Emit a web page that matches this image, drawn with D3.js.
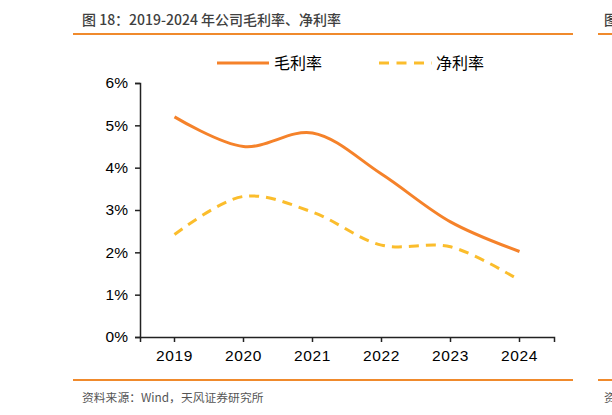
<!DOCTYPE html>
<html>
<head>
<meta charset="utf-8">
<script src="https://cdn.jsdelivr.net/npm/d3@7"></script>
<style>
  body { margin: 0; background: #fff; }
  svg { display: block; }
</style>
</head>
<body>
<svg id="chart" width="612" height="415"></svg>
<script>
// data
const years = ["2019", "2020", "2021", "2022", "2023", "2024"];
const grossMargin = [5.2, 4.5, 4.82, 3.85, 2.72, 2.02];
const netMargin = [2.42, 3.32, 2.95, 2.17, 2.13, 1.34];
const yTicks = [0, 1, 2, 3, 4, 5, 6];
const seriesNames = ["毛利率", "净利率"];

const svg = d3.select("#chart");
const cjk = "'Noto Sans CJK SC', 'Noto Sans', sans-serif";
const latin = "'Liberation Sans', Arial, sans-serif";

const margin = { top: 83, right: 58, bottom: 78, left: 140 };
const width = 612 - margin.left - margin.right;
const height = 415 - margin.top - margin.bottom;

// header and footer rules
svg.append("line").attr("x1", 73).attr("x2", 573).attr("y1", 34).attr("y2", 34)
  .attr("stroke", "#F08A2C").attr("stroke-width", 2);
svg.append("line").attr("x1", 598).attr("x2", 612).attr("y1", 34).attr("y2", 34)
  .attr("stroke", "#F08A2C").attr("stroke-width", 2);
svg.append("line").attr("x1", 73).attr("x2", 573).attr("y1", 380).attr("y2", 380)
  .attr("stroke", "#F08A2C").attr("stroke-width", 2);
svg.append("line").attr("x1", 598).attr("x2", 612).attr("y1", 380).attr("y2", 380)
  .attr("stroke", "#F08A2C").attr("stroke-width", 2);

svg.append("text").attr("x", 82).attr("y", 25)
  .attr("font-family", cjk).attr("font-size", 14).attr("font-weight", 500)
  .attr("fill", "#404040")
  .text("图 18：2019-2024 年公司毛利率、净利率");
svg.append("text").attr("x", 604).attr("y", 25)
  .attr("font-family", cjk).attr("font-size", 14).attr("font-weight", 500)
  .attr("fill", "#404040").text("图");

svg.append("text").attr("x", 82).attr("y", 402)
  .attr("font-family", cjk).attr("font-size", 11.8).attr("fill", "#555")
  .text("资料来源：Wind，天风证券研究所");
svg.append("text").attr("x", 604).attr("y", 402)
  .attr("font-family", cjk).attr("font-size", 11.8).attr("fill", "#555").text("资");

const g = svg.append("g").attr("transform", `translate(${margin.left},${margin.top})`);

const x = d3.scaleBand().domain(years).range([0, width]);
const y = d3.scaleLinear().domain([0, 6]).range([height, 0]);

const xAxis = g.append("g")
  .attr("transform", `translate(0,${height})`)
  .call(d3.axisBottom(x).tickSize(5).tickSizeOuter(5).tickPadding(8));
xAxis.selectAll("text").attr("font-family", latin).attr("font-size", 15.5)
  .attr("letter-spacing", 0.6).attr("fill", "#000");

const yAxis = g.append("g")
  .call(d3.axisLeft(y).tickValues(yTicks).tickFormat(d => d + "%").tickSize(5).tickSizeOuter(5).tickPadding(7));
yAxis.selectAll("text").attr("font-family", latin).attr("font-size", 15.5).attr("fill", "#000");

g.selectAll(".domain, .tick line").attr("stroke", "#222").attr("stroke-width", 1.5);

const line = d3.line()
  .x((d, i) => x(years[i]) + x.bandwidth() / 2)
  .y(d => y(d))
  .curve(d3.curveCatmullRom.alpha(0.5));

g.append("path").datum(grossMargin)
  .attr("d", line).attr("fill", "none")
  .attr("stroke", "#F5822A").attr("stroke-width", 3);

g.append("path").datum(netMargin)
  .attr("d", line).attr("fill", "none")
  .attr("stroke", "#FBBD2C").attr("stroke-width", 3)
  .attr("stroke-dasharray", "10,7");

// legend
const legend = svg.append("g").attr("font-family", cjk).attr("font-size", 16).attr("fill", "#000");
legend.append("line").attr("x1", 217).attr("x2", 269).attr("y1", 63).attr("y2", 63)
  .attr("stroke", "#F5822A").attr("stroke-width", 3);
legend.append("text").attr("x", 274).attr("y", 69).text(seriesNames[0]);
legend.append("line").attr("x1", 379).attr("x2", 432).attr("y1", 63).attr("y2", 63)
  .attr("stroke", "#FBBD2C").attr("stroke-width", 3).attr("stroke-dasharray", "10,7.5");
legend.append("text").attr("x", 436).attr("y", 69).text(seriesNames[1]);
</script>
</body>
</html>
